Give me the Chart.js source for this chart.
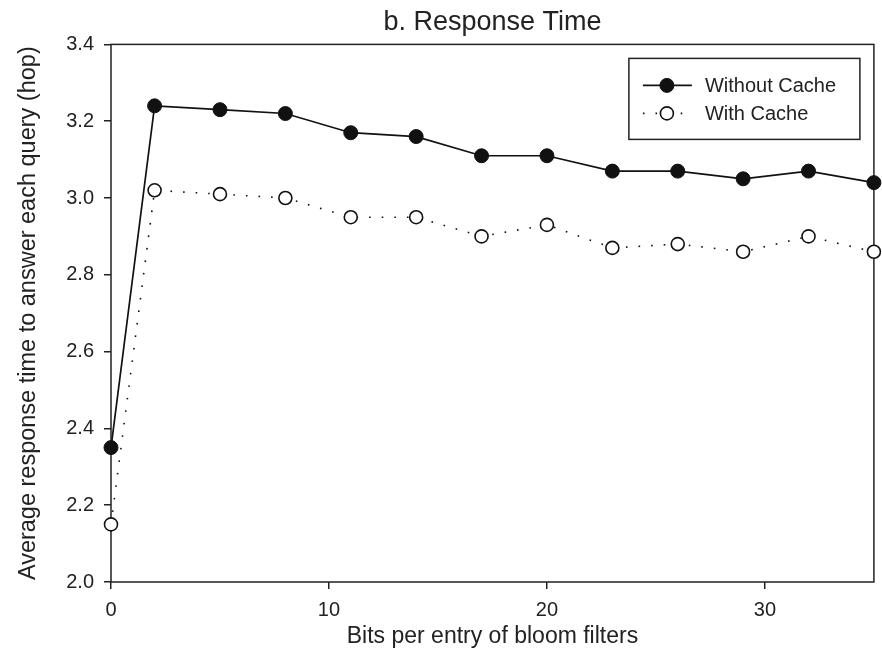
<!DOCTYPE html>
<html>
<head>
<meta charset="utf-8">
<script src="https://cdn.jsdelivr.net/npm/chart.js@4/dist/chart.umd.min.js"></script>
<style>
  html, body { margin: 0; padding: 0; background: #fff; }
  #chart { display: block; }
</style>
</head>
<body>
<canvas id="chart" width="882" height="654"></canvas>
<script>
// bits per entry (x) and average response time (hop)
var bits = [0, 2, 5, 8, 11, 14, 17, 20, 23, 26, 29, 32, 35];
var withoutCache = [2.35, 3.24, 3.23, 3.22, 3.17, 3.16, 3.11, 3.11, 3.07, 3.07, 3.05, 3.07, 3.04];
var withCache = [2.15, 3.02, 3.01, 3.00, 2.95, 2.95, 2.90, 2.93, 2.87, 2.88, 2.86, 2.90, 2.86];
var xTicks = [0, 10, 20, 30];
var yTicks = [2.0, 2.2, 2.4, 2.6, 2.8, 3.0, 3.2, 3.4];

var ink = '#222';
var font = 'Liberation Sans, Arial, sans-serif';

function pts(xs, ys) {
  return xs.map(function (x, i) { return { x: x, y: ys[i] }; });
}

// frame on all four sides, under the markers
var framePlugin = {
  id: 'frame',
  beforeDatasetsDraw: function (chart) {
    var a = chart.chartArea, ctx = chart.ctx;
    ctx.save();
    ctx.strokeStyle = ink;
    ctx.lineWidth = 1.5;
    ctx.strokeRect(a.left, a.top, a.right - a.left, a.bottom - a.top);
    ctx.restore();
  }
};

// boxed legend inside the plot, top right
var boxLegend = {
  id: 'boxLegend',
  afterDraw: function (chart) {
    var ctx = chart.ctx, a = chart.chartArea;
    var x0 = a.right - 245, y0 = a.top + 14, w = 231, h = 81;
    ctx.save();
    ctx.strokeStyle = ink;
    ctx.lineWidth = 1.5;
    ctx.strokeRect(x0, y0, w, h);
    chart.data.datasets.forEach(function (ds, i) {
      var cy = y0 + 27 + i * 28;
      ctx.strokeStyle = ds.borderColor;
      ctx.lineWidth = ds.borderWidth;
      ctx.setLineDash(ds.borderDash || []);
      ctx.beginPath();
      ctx.moveTo(x0 + 14, cy);
      ctx.lineTo(x0 + 63, cy);
      ctx.stroke();
      ctx.setLineDash([]);
      ctx.beginPath();
      ctx.arc(x0 + 38, cy, ds.pointRadius, 0, Math.PI * 2);
      ctx.fillStyle = ds.pointBackgroundColor;
      ctx.fill();
      ctx.lineWidth = ds.pointBorderWidth;
      ctx.strokeStyle = ds.pointBorderColor;
      ctx.stroke();
      ctx.fillStyle = ink;
      ctx.font = '20px ' + font;
      ctx.textBaseline = 'middle';
      ctx.fillText(ds.label, x0 + 76, cy + 1);
    });
    ctx.restore();
  }
};

new Chart(document.getElementById('chart'), {
  type: 'line',
  data: {
    datasets: [{
      label: 'Without Cache',
      data: pts(bits, withoutCache),
      borderColor: '#111',
      borderWidth: 1.7,
      pointRadius: 7,
      pointBackgroundColor: '#111',
      pointBorderColor: '#111',
      pointBorderWidth: 1,
      tension: 0,
      clip: false
    }, {
      label: 'With Cache',
      data: pts(bits, withCache),
      borderColor: '#111',
      borderWidth: 1.6,
      borderDash: [1.6, 11],
      pointRadius: 6.5,
      pointBackgroundColor: '#fff',
      pointBorderColor: '#111',
      pointBorderWidth: 1.6,
      tension: 0,
      clip: false
    }]
  },
  options: {
    responsive: false,
    devicePixelRatio: 1,
    animation: false,
    layout: { padding: { left: 0, right: 6, top: 0, bottom: 0 } },
    plugins: {
      legend: { display: false },
      tooltip: { enabled: false },
      title: {
        display: true,
        fullSize: false,
        text: 'b. Response Time',
        color: ink,
        font: { family: font, size: 27, weight: 'normal' },
        padding: { top: 6, bottom: 6 }
      }
    },
    scales: {
      x: {
        type: 'linear',
        min: 0,
        max: 35,
        afterBuildTicks: function (s) { s.ticks = xTicks.map(function (v) { return { value: v }; }); },
        afterFit: function (s) { s.height = 72; },
        border: { display: false },
        grid: { drawOnChartArea: false, drawTicks: true, tickLength: 7, color: ink, lineWidth: 1.5 },
        ticks: { color: ink, padding: 9, maxRotation: 0, font: { family: font, size: 20 } },
        title: {
          display: true,
          text: 'Bits per entry of bloom filters',
          color: ink,
          font: { family: font, size: 23 },
          padding: { top: 2, bottom: 4 }
        }
      },
      y: {
        min: 2.0,
        max: 3.4,
        afterBuildTicks: function (s) { s.ticks = yTicks.map(function (v) { return { value: v }; }); },
        afterFit: function (s) { s.width = 111; },
        border: { display: false },
        grid: { drawOnChartArea: false, drawTicks: true, tickLength: 7, color: ink, lineWidth: 1.5 },
        ticks: {
          color: ink,
          padding: 10,
          font: { family: font, size: 20 },
          callback: function (v) { return Number(v).toFixed(1); }
        },
        title: {
          display: true,
          text: 'Average response time to answer each query (hop)',
          color: ink,
          font: { family: font, size: 23.5 },
          padding: { top: 14, bottom: 4 }
        }
      }
    }
  },
  plugins: [framePlugin, boxLegend]
});
</script>
</body>
</html>
